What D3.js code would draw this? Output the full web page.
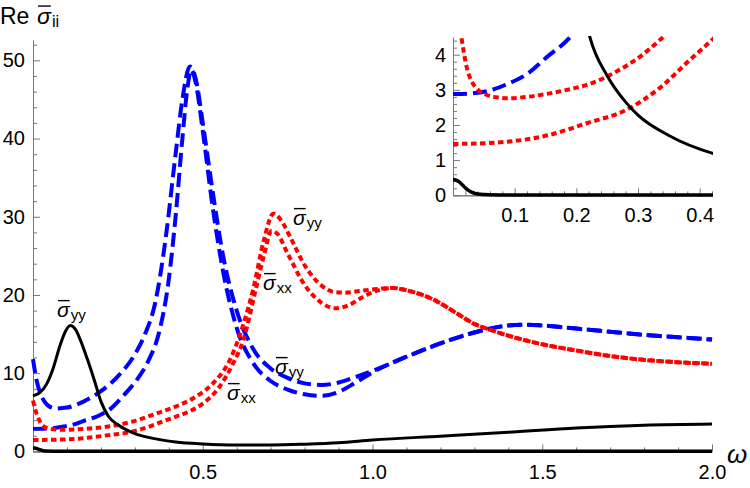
<!DOCTYPE html>
<html>
<head>
<meta charset="utf-8">
<script src="https://cdn.jsdelivr.net/npm/d3@7"></script>
<style>
body { margin: 0; background: #fff; }
text { font-family: "Liberation Sans", Arial, sans-serif; }
</style>
</head>
<body>
<svg id="chart" width="750" height="488"></svg>
<script>
// tick values
const xTicks = [0.5, 1.0, 1.5, 2.0];
const yTicks = [0, 10, 20, 30, 40, 50];
const insetXTicks = [0.1, 0.2, 0.3, 0.4];
const insetYTicks = [0, 1, 2, 3, 4];

// curves, [omega, Re sigma]
const blackYY = [[0,7.1],[0.02,7.5],[0.04,8.6],[0.06,10.7],[0.08,13.6],[0.095,15.3],[0.11,16.1],[0.125,15.6],
  [0.14,14.2],[0.16,11.8],[0.18,9.2],[0.2,6.4],[0.222,4.5],[0.25,3.4],[0.28,2.65],[0.3,2.28],[0.35,1.7],
  [0.42,1.2],[0.5,0.95],[0.6,0.82],[0.7,0.82],[0.8,0.92],[0.9,1.1],[1.0,1.45],[1.2,1.95],[1.4,2.45],
  [1.6,3.0],[1.8,3.35],[2.0,3.5]];
const blackXX = [[0,0.45],[0.005,0.43],[0.01,0.38],[0.015,0.3],[0.02,0.21],[0.025,0.14],[0.03,0.09],
  [0.04,0.04],[0.06,0.015],[0.1,0.005],[2.0,0.005]];
const blueYY = [[0,11.8],[0.01,9.2],[0.02,7.6],[0.035,6.3],[0.05,5.7],[0.07,5.5],[0.1,5.6],[0.15,6.4],
  [0.2,7.7],[0.25,9.6],[0.3,12.4],[0.33,15.0],[0.36,19],[0.39,27],[0.42,38],[0.44,45],[0.462,49.2],
  [0.48,47.5],[0.5,42],[0.53,33],[0.56,25],[0.6,18],[0.65,13],[0.7,10.6],[0.75,9.4],[0.8,8.7],[0.85,8.5],
  [0.9,8.8],[0.95,9.5],[1.0,10.3],[1.1,12.1],[1.2,13.8],[1.3,15.2],[1.4,16.1],[1.45,16.2],[1.5,16.1],
  [1.6,15.7],[1.7,15.3],[1.8,14.9],[1.9,14.6],[2.0,14.3]];
const blueXX = [[0,2.88],[0.03,2.9],[0.055,2.96],[0.09,3.18],[0.12,3.45],[0.15,3.9],[0.19,4.5],[0.23,5.5],
  [0.27,7.3],[0.31,9.4],[0.34,11.6],[0.37,15],[0.4,22],[0.42,30],[0.44,40],[0.455,46.5],[0.466,48.8],
  [0.48,47],[0.5,41],[0.53,31],[0.56,23],[0.6,15.8],[0.65,11.2],[0.7,9.0],[0.75,7.9],[0.8,7.3],[0.85,7.1],
  [0.9,7.6],[0.95,8.8],[1.0,10.1],[1.1,12.1],[1.2,13.8],[1.3,15.2],[1.4,16.1],[1.45,16.2],[1.5,16.1],
  [1.6,15.7],[1.7,15.3],[1.8,14.9],[1.9,14.6],[2.0,14.3]];
const redYY = [[0,6.5],[0.005,5.6],[0.01,4.9],[0.014,4.45],[0.022,3.66],[0.03,3.25],[0.038,3.05],[0.054,2.86],
  [0.07,2.79],[0.092,2.76],[0.12,2.8],[0.157,2.9],[0.19,3.02],[0.217,3.14],[0.265,3.52],[0.303,3.94],
  [0.341,4.5],[0.38,5.1],[0.43,5.9],[0.48,7.0],[0.53,8.7],[0.58,11.7],[0.62,16.3],[0.65,21],[0.68,27],
  [0.708,30.4],[0.73,29.6],[0.76,27.2],[0.8,23.8],[0.85,21.2],[0.885,20.4],[0.92,20.3],[0.96,20.5],
  [1.0,20.7],[1.06,20.9],[1.1,20.6],[1.18,19.4],[1.25,17.6],[1.3,16.3],[1.35,15.5],[1.4,14.8],[1.5,13.7],
  [1.6,12.9],[1.7,12.2],[1.8,11.7],[1.9,11.4],[2.0,11.2]];
const redXX = [[0,1.46],[0.05,1.48],[0.092,1.53],[0.157,1.72],[0.217,2.05],[0.281,2.43],[0.335,3.05],
  [0.384,3.85],[0.42,4.42],[0.46,5.1],[0.5,6.1],[0.55,8.3],[0.59,11.3],[0.62,14.3],[0.654,20.3],[0.68,25],
  [0.703,28.2],[0.72,27.8],[0.75,25.3],[0.8,21.3],[0.85,19.0],[0.89,18.3],[0.93,18.7],[0.97,19.7],
  [1.01,20.5],[1.06,20.9],[1.1,20.6],[1.18,19.4],[1.25,17.6],[1.3,16.3],[1.35,15.5],[1.4,14.8],[1.5,13.7],
  [1.6,12.9],[1.7,12.2],[1.8,11.7],[1.9,11.4],[2.0,11.2]];

const svg = d3.select("#chart");

const x = d3.scaleLinear().domain([0, 2]).range([33, 712]);
const y = d3.scaleLinear().domain([0, 52.6]).range([451.4, 40]);
const ix = d3.scaleLinear().domain([0, 0.42]).range([453, 712]);
const iy = d3.scaleLinear().domain([0, 4.5]).range([195.3, 37.1]);

const axisColor = "#777";

function styleAxis(g) {
    g.attr("font-size", 20).attr("font-family", "Liberation Sans, Arial, sans-serif");
    g.selectAll(".domain").attr("stroke", axisColor);
    g.selectAll(".tick line").attr("stroke", axisColor);
    g.selectAll(".tick text").attr("fill", "black");
}

function drawAxes(sx, sy, xMajor, yMajor, xMinor, yMinor, xPad, yPad) {
    svg.append("g")
        .attr("transform", "translate(0," + sy(0) + ")")
        .call(d3.axisBottom(sx).tickValues(xMinor).tickFormat("").tickSizeInner(-4).tickSizeOuter(0))
        .call(styleAxis);
    svg.append("g")
        .attr("transform", "translate(0," + sy(0) + ")")
        .call(d3.axisBottom(sx).tickValues(xMajor).tickFormat(d3.format(".1f"))
            .tickSizeInner(-7).tickSizeOuter(0).tickPadding(xPad))
        .call(styleAxis);
    svg.append("g")
        .attr("transform", "translate(" + sx(0) + ",0)")
        .call(d3.axisLeft(sy).tickValues(yMinor).tickFormat("").tickSizeInner(-4).tickSizeOuter(0))
        .call(styleAxis);
    svg.append("g")
        .attr("transform", "translate(" + sx(0) + ",0)")
        .call(d3.axisLeft(sy).tickValues(yMajor).tickFormat(d3.format("d"))
            .tickSizeInner(-7).tickSizeOuter(0).tickPadding(yPad))
        .call(styleAxis);
}

//main axes
drawAxes(x, y, xTicks, yTicks,
    d3.range(1, 20).map(i => i / 10).filter(v => !xTicks.includes(v)),
    d3.range(1, 27).map(i => i * 2).filter(v => !yTicks.includes(v)),
    13, 8);

//inset axes
drawAxes(ix, iy, insetXTicks, insetYTicks,
    d3.range(1, 22).map(i => i / 50).filter(v => !insetXTicks.some(t => Math.abs(t - v) < 1e-9)),
    d3.range(1, 23).map(i => i / 5).filter(v => !insetYTicks.some(t => Math.abs(t - v) < 1e-9)),
    13, 7);

const defs = svg.append("defs");
defs.append("clipPath").attr("id", "mainClip")
    .append("rect").attr("x", 30).attr("y", 38).attr("width", 686).attr("height", 418);
defs.append("clipPath").attr("id", "insetClip")
    .append("rect").attr("x", 452).attr("y", 36).attr("width", 261).attr("height", 162);

const curves = [
    {data: blueYY, color: "#0000ff", dash: "14,6", width: 4},
    {data: blueXX, color: "#0000ff", dash: "14,6", width: 4},
    {data: redYY, color: "#ff0000", dash: "5.5,3.5", width: 4},
    {data: redXX, color: "#ff0000", dash: "5.5,3.5", width: 4},
    {data: blackYY, color: "black", dash: null, width: 3},
    {data: blackXX, color: "black", dash: null, width: 3.5}
];

function drawCurves(sx, sy, clipId) {
    const line = d3.line()
        .x(d => sx(d[0]))
        .y(d => sy(d[1]))
        .curve(d3.curveMonotoneX);
    const g = svg.append("g").attr("clip-path", "url(#" + clipId + ")");
    curves.forEach(c => {
        g.append("path")
            .attr("d", line(c.data))
            .attr("fill", "none")
            .attr("stroke", c.color)
            .attr("stroke-width", c.width)
            .attr("stroke-dasharray", c.dash)
            .attr("stroke-linejoin", "round");
    });
}

drawCurves(x, y, "mainClip");
drawCurves(ix, iy, "insetClip");

// sigma with overbar and subscript
function sigma(x0, yb, sub, fs) {
    const t = svg.append("text")
        .attr("x", x0)
        .attr("y", yb)
        .attr("font-size", fs)
        .attr("fill", "black");
    t.append("tspan").attr("font-style", "italic").text("σ");
    t.append("tspan").attr("font-size", fs * 0.72).attr("dy", 3).attr("dx", 1).text(sub);
    svg.append("line")
        .attr("x1", x0 + 1)
        .attr("x2", x0 + fs * 0.6)
        .attr("y1", yb - fs * 0.78)
        .attr("y2", yb - fs * 0.78)
        .attr("stroke", "black")
        .attr("stroke-width", 1.4);
}

sigma(57, 317, "yy", 21);
sigma(293, 225, "yy", 21);
sigma(263, 290, "xx", 21);
sigma(275, 374, "yy", 21);
sigma(227, 400, "xx", 21);

svg.append("text")
    .attr("x", 0)
    .attr("y", 24)
    .attr("font-size", 23)
    .text("Re");
sigma(37, 24, "ii", 23);

svg.append("text")
    .attr("x", 727)
    .attr("y", 463)
    .attr("font-size", 26)
    .attr("font-style", "italic")
    .text("ω");
</script>
</body>
</html>
